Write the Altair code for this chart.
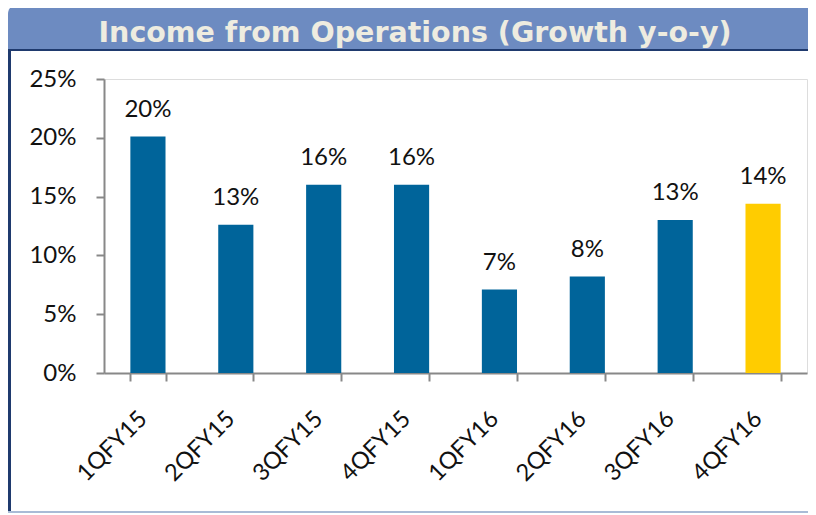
import altair as alt
import pandas as pd

quarters = ["1QFY15", "2QFY15", "3QFY15", "4QFY15", "1QFY16", "2QFY16", "3QFY16", "4QFY16"]
growth = [0.201, 0.126, 0.160, 0.160, 0.071, 0.082, 0.130, 0.144]
colors = ["#00649a"] * 7 + ["#ffcc00"]
title_text = "Income from Operations (Growth y-o-y)"
y_ticks = [0, 0.05, 0.10, 0.15, 0.20, 0.25]

df = pd.DataFrame({"q": quarters, "g": growth, "c": colors})
deco = pd.DataFrame({"t": [title_text]})

FONT = "Lato"
W, H = 703, 294

x_enc = alt.X("q:N", sort=quarters, title=None,
              scale=alt.Scale(paddingInner=0.6, paddingOuter=0.3),
              axis=alt.Axis(labelAngle=-45, labelAlign="right", labelBaseline="middle",
                            labelFontSize=23.5, labelFont=FONT, labelColor="#111",
                            labelPadding=34, labelOffset=-5, tickBand="extent", tickSize=8,
                            tickColor="#888", domainColor="#888", domainWidth=2, tickWidth=2))
y_enc = alt.Y("g:Q", title=None,
              scale=alt.Scale(domain=[0, 0.25], nice=False),
              axis=alt.Axis(format=".0%", values=y_ticks, grid=False,
                            labelFontSize=24, labelFont=FONT, labelColor="#111", labelPadding=20,
                            tickSize=8, tickColor="#888", domainColor="#888", domainWidth=2, tickWidth=2))

base = alt.Chart(df)
bars = base.mark_bar().encode(x=x_enc, y=y_enc, color=alt.Color("c:N", scale=None))
labels = base.mark_text(baseline="alphabetic", dy=-20, fontSize=24, font=FONT, color="#111").encode(
    x=alt.X("q:N", sort=quarters),
    y=alt.Y("g:Q", scale=alt.Scale(domain=[0, 0.25], nice=False)),
    text=alt.Text("g:Q", format=".0%"))

dchart = alt.Chart(deco)
bar_bg = dchart.mark_rect(color="#6d8bc1", cornerRadiusTopLeft=10, clip=False).encode(
    x=alt.value(-96), x2=alt.value(712), y=alt.value(-75), y2=alt.value(-29))
top_line = dchart.mark_rule(color="#1f3a6e", strokeWidth=2, clip=False).encode(
    x=alt.value(-96), x2=alt.value(712), y=alt.value(-29))
left_line = dchart.mark_rule(color="#1f3a6e", strokeWidth=3, clip=False).encode(
    x=alt.value(-94.5), y=alt.value(-29), y2=alt.value(436))
bottom_line = dchart.mark_rule(color="#a9bbd6", strokeWidth=2, clip=False).encode(
    x=alt.value(-96), x2=alt.value(712), y=alt.value(433))
title = dchart.mark_text(fontSize=28.5, fontWeight="bold", font="DejaVu Sans", color="#eeece0",
                         baseline="alphabetic", align="center", clip=False).encode(
    x=alt.value(311), y=alt.value(-37), text="t:N")

chart = alt.layer(bar_bg, top_line, left_line, bottom_line, title, bars, labels).properties(
    width=W, height=H,
    autosize=alt.AutoSizeParams(type="none"),
    padding={"left": 96, "top": 71, "right": 1, "bottom": 140},
).configure_view(fill="#f7f7f7", stroke=None).configure(background="white")

chart.save("out.html", embed_options={"renderer": "svg", "actions": False})
